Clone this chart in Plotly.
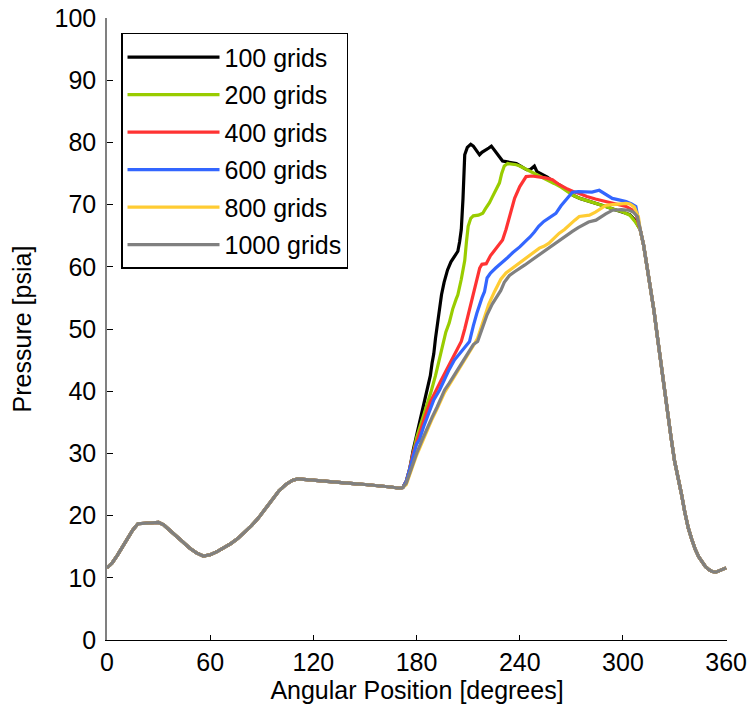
import plotly.graph_objects as go

# ---------------- data ----------------
start_x = [0, 3, 6, 9, 12, 15, 18, 22, 26, 30, 33, 36, 40, 44, 48, 52, 56, 60, 64, 68, 72, 76, 80,
           84, 88, 92, 96, 100, 104, 108, 111, 115, 120, 125, 130, 135, 140, 145, 150, 155, 160,
           165, 170, 172]
start_y = [11.6, 12.4, 13.6, 14.9, 16.2, 17.7, 18.7, 18.8, 18.8, 18.9, 18.5, 17.8, 16.8, 15.8, 14.8,
           14.0, 13.5, 13.7, 14.2, 14.8, 15.5, 16.3, 17.3, 18.4, 19.6, 21.0, 22.6, 24.0, 25.0, 25.7,
           25.9, 25.8, 25.6, 25.5, 25.4, 25.3, 25.2, 25.1, 25.0, 24.9, 24.8, 24.6, 24.4, 24.5]

end_x = [310, 312, 314, 316, 318, 320, 322, 324, 326, 328, 330, 332, 334, 336, 338, 340, 342, 344,
         346, 348, 350, 352, 354, 356, 358, 360]
end_y = [66.0, 63.5, 60.0, 56.7, 53.0, 48.8, 44.5, 40.5, 36.5, 32.5, 28.8, 25.8, 23.5, 20.5, 18.0,
         16.2, 14.6, 13.4, 12.5, 11.8, 11.3, 11.0, 10.9, 11.1, 11.4, 11.6]

g100_x = [174, 176, 178, 180, 182, 184, 186, 188, 189, 190, 191, 193, 194.5, 196, 198, 200, 202, 204,
          205, 206, 207, 207.5, 208, 209.5, 211.5, 213, 215, 216.6, 218, 220, 222, 223.5, 225, 227,
          229, 230, 232, 235, 238, 241, 244, 246, 248.5, 250, 252, 256, 260, 264, 268, 271, 275,
          280, 285, 290, 295, 300, 304, 307]
g100_y = [25.5, 27.5, 30.5, 33.0, 35.0, 37.5, 40.0, 42.5, 44.5, 46.0, 48.5, 52.5, 55.5, 57.5, 59.5,
          60.8, 61.6, 62.5, 64.0, 66.0, 71.0, 75.0, 78.0, 79.2, 79.7, 79.4, 78.5, 78.0, 78.4, 78.7,
          79.1, 79.4, 78.8, 78.0, 77.3, 77.0, 76.9, 76.8, 76.6, 76.1, 75.6, 75.6, 76.2, 75.3, 75.0,
          74.4, 73.6, 73.0, 72.2, 71.5, 71.0, 70.6, 70.2, 69.7, 69.2, 68.8, 68.4, 67.5]

g200_x = [174, 176, 178, 180, 182, 184, 186, 188.5, 191, 193, 195, 197, 199, 201, 203, 204, 206, 208,
          209, 210, 211.5, 213, 216, 218.5, 220, 222.4, 224, 225.3, 227, 228.2, 229.5, 231, 233,
          236, 238, 240, 243, 246, 249, 252, 256, 260, 264, 268, 271, 275, 280, 285, 290, 295, 300,
          304, 307]
g200_y = [25.5, 27.5, 30.0, 32.5, 34.3, 36.0, 37.6, 40.0, 42.5, 45.0, 47.5, 49.5, 51.0, 53.2, 54.8,
          55.5, 58.0, 61.0, 64.0, 66.5, 67.8, 68.2, 68.3, 68.6, 69.3, 70.3, 71.2, 72.0, 72.9, 73.5,
          75.0, 76.2, 76.6, 76.5, 76.4, 76.2, 75.8, 75.3, 74.9, 74.5, 74.0, 73.4, 72.8, 72.1, 71.5,
          71.0, 70.6, 70.2, 69.7, 69.2, 68.8, 68.3, 67.3]

g400_x = [174, 176, 178, 180, 182, 184, 186, 188, 190, 191.4, 194, 197, 200, 203, 206, 208, 210,
          212.7, 214, 215.5, 216.7, 218, 220.5, 223, 225, 227, 229, 230, 232, 233, 235, 237, 240,
          242, 243.7, 247, 251, 255, 259, 263, 267, 271, 274.6, 279, 284, 290, 296, 301.8, 305,
          307.5]
g400_y = [25.5, 27.5, 30.0, 31.8, 33.5, 35.2, 36.8, 38.3, 39.5, 40.2, 41.6, 43.2, 44.8, 46.4, 48.0,
          50.0, 52.2, 55.2, 56.5, 58.0, 59.8, 60.4, 60.5, 61.8, 62.5, 63.2, 64.0, 64.3, 66.0, 67.0,
          69.1, 71.0, 72.9, 73.8, 74.5, 74.6, 74.5, 74.3, 74.0, 73.2, 72.6, 72.1, 71.8, 71.3, 70.9,
          70.5, 70.1, 69.7, 69.2, 68.6]

g600_x = [174, 176, 178, 180, 181.7, 184, 187, 190, 193.4, 196, 199, 202, 205, 208, 210.8, 213, 215,
          218, 219.5, 221, 223, 226, 229, 233, 236, 240, 244, 246, 248.5, 251, 254, 258, 261, 264,
          267, 269, 270.6, 274, 278, 282, 286.2, 290, 293.8, 297, 301.8, 305, 307.5]
g600_y = [25.5, 27.3, 29.5, 31.5, 32.2, 34.2, 36.5, 38.6, 40.2, 41.8, 43.5, 45.0, 46.0, 47.0, 48.0,
          50.5, 52.5, 55.0, 56.0, 58.2, 59.0, 59.8, 60.5, 61.5, 62.3, 63.2, 64.3, 64.8, 65.6, 66.5,
          67.3, 68.0, 68.6, 69.8, 70.8, 71.3, 72.0, 72.1, 72.0, 72.0, 72.3, 71.6, 71.0, 70.8, 70.5,
          70.1, 69.7]

g800_x = [174, 176, 178, 180, 183.3, 186, 189, 192, 196.3, 199, 202, 205, 208, 211, 213, 215.5, 218,
          220, 222, 225.3, 227, 229, 232, 235, 238, 241, 244, 247.5, 251.4, 254, 257, 260, 263, 266,
          269, 272, 274.6, 277, 280.5, 284, 287, 290.2, 294, 298, 301.8, 304, 306.6, 309]
g800_y = [25.0, 26.5, 28.2, 29.7, 31.8, 33.7, 35.5, 37.2, 39.8, 41.0, 42.3, 43.7, 45.0, 46.3, 47.3,
          48.5, 50.5, 52.2, 54.0, 56.0, 57.0, 58.0, 59.0, 59.6, 60.2, 60.8, 61.5, 62.2, 63.0, 63.3,
          63.8, 64.6, 65.4, 66.0, 66.8, 67.5, 68.1, 68.2, 68.3, 68.8, 69.4, 69.9, 70.0, 70.1, 70.2,
          70.1, 69.6, 68.0]

g1000_x = [174, 176, 178, 180, 183.3, 186, 189, 192, 196.3, 199, 202, 205, 208, 211, 213, 215.5, 218,
           219.5, 221, 224, 227, 229, 231, 234, 237, 240, 243, 246, 249, 251, 254, 257, 260, 264,
           267, 270.6, 274, 277, 280, 284.3, 287, 290, 294, 299, 303.7, 306, 308.4]
g1000_y = [25.2, 26.8, 28.5, 30.0, 32.2, 34.0, 35.8, 37.5, 40.2, 41.3, 42.6, 44.0, 45.3, 46.5, 47.5,
           48.0, 50.0, 51.4, 52.3, 54.0, 55.2, 56.2, 57.5, 58.6, 59.2, 59.7, 60.3, 60.9, 61.5, 61.8,
           62.4, 63.0, 63.6, 64.4, 65.0, 65.7, 66.3, 66.8, 67.2, 67.5, 68.0, 68.5, 69.1, 69.2, 69.1,
           68.8, 68.1]

names = ["100 grids", "200 grids", "400 grids", "600 grids", "800 grids", "1000 grids"]
colors = ["#000000", "#99cc00", "#ff3333", "#3366ff", "#ffcc33", "#808080"]
mid_x = [g100_x, g200_x, g400_x, g600_x, g800_x, g1000_x]
mid_y = [g100_y, g200_y, g400_y, g600_y, g800_y, g1000_y]

x_ticks = [0, 60, 120, 180, 240, 300, 360]
y_ticks = [0, 10, 20, 30, 40, 50, 60, 70, 80, 90, 100]

# ---------------- figure ----------------
FONT = "Arial, Liberation Sans, sans-serif"
FS = 25
fig = go.Figure()
for i, (nm, col) in enumerate(zip(names, colors)):
    fig.add_trace(go.Scatter(
        x=start_x + mid_x[i] + end_x,
        y=start_y + mid_y[i] + end_y,
        mode="lines", name=nm, legendgroup=nm,
        line=dict(color=col, width=3.2),
    ))

fig.update_layout(
    width=752, height=717,
    margin=dict(l=107, r=25, t=18, b=77, autoexpand=False),
    paper_bgcolor="white", plot_bgcolor="white",
    font=dict(family=FONT, size=FS, color="black"),
    showlegend=True,
    legend=dict(
        x=0.0226, y=0.976, xanchor="left", yanchor="top",
        bgcolor="white", bordercolor="black", borderwidth=1.5,
        font=dict(family=FONT, size=FS, color="black"),
        itemwidth=92, tracegroupgap=2,
    ),
    xaxis=dict(
        range=[0, 360.5], tickvals=x_ticks, ticktext=[str(v) for v in x_ticks],
        automargin=False,
        showgrid=False, zeroline=False, showline=True, linecolor="black", linewidth=1.2,
        ticks="inside", ticklen=5, tickcolor="black", tickwidth=1.2,
        tickfont=dict(family=FONT, size=FS),
        title=dict(text="Angular Position [degrees]", font=dict(family=FONT, size=FS), standoff=6),
    ),
    yaxis=dict(
        range=[0, 100], tickvals=y_ticks, ticktext=[str(v) for v in y_ticks],
        automargin=False,
        showgrid=False, zeroline=False, showline=True, linecolor="#808080", linewidth=1.5,
        ticks="inside", ticklen=6, tickcolor="black", tickwidth=1.2,
        tickfont=dict(family=FONT, size=FS), ticklabelstandoff=4,
        title=dict(text="Pressure [psia]", font=dict(family=FONT, size=FS), standoff=16),
    ),
)

fig.write_html("out.html")
